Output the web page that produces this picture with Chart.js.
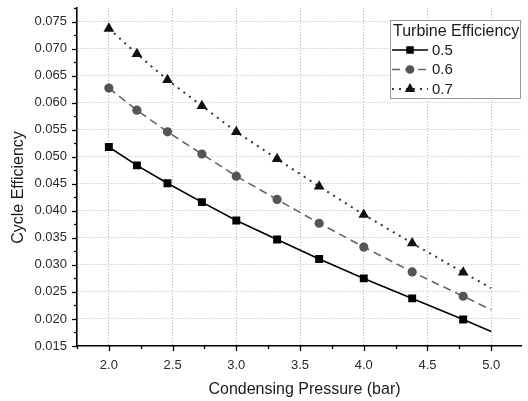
<!DOCTYPE html>
<html><head><meta charset="utf-8">
<script src="https://cdn.jsdelivr.net/npm/chart.js@4.4.1/dist/chart.umd.min.js"></script>
<style>html,body{margin:0;padding:0;background:#fff}#wrap{width:528px;height:401px;position:relative}</style>
</head><body><div id="wrap"><canvas id="c" width="528" height="401"></canvas></div>
<script>
const pressures = [2.0, 2.22, 2.46, 2.73, 3.0, 3.32, 3.65, 4.0, 4.38, 4.78, 5.0];
const eff05 = [0.0518, 0.0484, 0.0451, 0.0416, 0.0382, 0.0347, 0.0311, 0.0275, 0.0238, 0.0199, 0.0177];
const eff06 = [0.0627, 0.0586, 0.0546, 0.0505, 0.0464, 0.0421, 0.0377, 0.0333, 0.0287, 0.0242, 0.0217];
const eff07 = [0.0737, 0.0690, 0.0642, 0.0594, 0.0546, 0.0496, 0.0445, 0.0393, 0.0340, 0.0286, 0.0257];
const seriesNames = ['0.5', '0.6', '0.7'];
const legendTitle = 'Turbine Efficiency';
const xTitle = 'Condensing Pressure (bar)';
const yTitle = 'Cycle Efficiency';
const xTickValues = [1.75, 2.0, 2.25, 2.5, 2.75, 3.0, 3.25, 3.5, 3.75, 4.0, 4.25, 4.5, 4.75, 5.0];
const yTickValues = [0.015, 0.0175, 0.02, 0.0225, 0.025, 0.0275, 0.03, 0.0325, 0.035, 0.0375, 0.04, 0.0425, 0.045, 0.0475, 0.05, 0.0525, 0.055, 0.0575, 0.06, 0.0625, 0.065, 0.0675, 0.07, 0.0725, 0.075, 0.0775];

const FONT = '"Liberation Sans", Arial, sans-serif';
const isMajorX = v => Math.abs(v * 2 - Math.round(v * 2)) < 1e-6;
const isMajorY = v => Math.abs(v * 200 - Math.round(v * 200)) < 1e-6;

function pts(ys) { return pressures.map((x, i) => ({x: x, y: ys[i]})); }
const lastIdx = pressures.length - 1;

const styles = [
  {color: '#000000', pointColor: '#000000', dash: [], width: 1.6, pointStyle: 'rect', radius: 5.6},
  {color: '#666666', pointColor: '#555555', dash: [8, 5], width: 1.6, pointStyle: 'circle', radius: 4.6},
  {color: '#333333', pointColor: '#111111', dash: [2, 5], width: 2, pointStyle: 'triangle', radius: 6.2}
];
const series = [eff05, eff06, eff07];

const datasets = series.map((s, k) => ({
  label: seriesNames[k],
  data: pts(s),
  borderColor: styles[k].color,
  borderWidth: styles[k].width,
  borderDash: styles[k].dash,
  backgroundColor: styles[k].pointColor,
  pointBackgroundColor: styles[k].pointColor,
  pointBorderColor: styles[k].pointColor,
  pointBorderWidth: 0,
  pointStyle: styles[k].pointStyle,
  pointRadius: c => c.dataIndex === lastIdx ? 0 : styles[k].radius,
  pointHoverRadius: c => c.dataIndex === lastIdx ? 0 : styles[k].radius,
  fill: false,
  tension: 0
}));

function drawMarker(ctx, style, x, y, r, color) {
  ctx.save();
  ctx.fillStyle = color;
  ctx.beginPath();
  if (style === 'rect') {
    const s = Math.SQRT1_2 * r;
    ctx.rect(x - s, y - s, 2 * s, 2 * s);
  } else if (style === 'circle') {
    ctx.arc(x, y, r, 0, Math.PI * 2);
  } else {
    ctx.moveTo(x, y - r);
    ctx.lineTo(x + r * Math.sin(2 * Math.PI / 3), y - r * Math.cos(2 * Math.PI / 3));
    ctx.lineTo(x + r * Math.sin(4 * Math.PI / 3), y - r * Math.cos(4 * Math.PI / 3));
    ctx.closePath();
  }
  ctx.fill();
  ctx.restore();
}

const decor = {
  id: 'decor',
  afterDraw(chart) {
    const ctx = chart.ctx;
    const xs = chart.scales.x, ys = chart.scales.y;
    ctx.save();
    ctx.strokeStyle = '#000';
    ctx.lineWidth = 1.3;
    xs.ticks.forEach(t => {
      const px = Math.round(xs.getPixelForValue(t.value)) + 0.5;
      const len = isMajorX(t.value) ? 5 : 3;
      ctx.beginPath(); ctx.moveTo(px, chart.chartArea.bottom); ctx.lineTo(px, chart.chartArea.bottom + len); ctx.stroke();
    });
    ys.ticks.forEach(t => {
      const py = Math.round(ys.getPixelForValue(t.value)) + 0.5;
      const len = isMajorY(t.value) ? 5 : 3;
      ctx.beginPath(); ctx.moveTo(chart.chartArea.left, py); ctx.lineTo(chart.chartArea.left - len, py); ctx.stroke();
    });
    ctx.restore();

    ctx.save();
    ctx.fillStyle = '#1a1a1a';
    ctx.font = '16px ' + FONT;
    ctx.textAlign = 'center';
    ctx.textBaseline = 'alphabetic';
    ctx.fillText(xTitle, 304.5, 393.5);
    ctx.translate(23, 187.5);
    ctx.rotate(-Math.PI / 2);
    ctx.fillText(yTitle, 0, 0);
    ctx.restore();

    ctx.save();
    ctx.fillStyle = '#ffffff';
    ctx.fillRect(390.5, 20.5, 130, 78);
    ctx.strokeStyle = '#9a9a9a';
    ctx.lineWidth = 1;
    ctx.strokeRect(390.5, 20.5, 130, 78);
    ctx.fillStyle = '#1a1a1a';
    ctx.textAlign = 'left';
    ctx.textBaseline = 'middle';
    ctx.font = '16px ' + FONT;
    ctx.fillText(legendTitle, 393, 32);
    chart.data.datasets.forEach((ds, k) => {
      const y = 50 + k * 19.5;
      ctx.save();
      ctx.strokeStyle = ds.borderColor;
      ctx.lineWidth = ds.borderWidth;
      ctx.setLineDash(ds.borderDash);
      ctx.beginPath(); ctx.moveTo(392, y); ctx.lineTo(428, y); ctx.stroke();
      ctx.restore();
      drawMarker(ctx, ds.pointStyle, 410, y, styles[k].radius * 0.95, ds.pointBackgroundColor);
      ctx.font = '15px ' + FONT;
      ctx.fillStyle = '#1a1a1a';
      ctx.fillText(ds.label, 432, y + 0.5);
    });
    ctx.restore();
  }
};

new Chart(document.getElementById('c'), {
  type: 'line',
  data: {datasets: datasets},
  options: {
    responsive: false,
    animation: false,
    devicePixelRatio: 1,
    layout: {padding: {top: 8, right: 0, left: 0, bottom: 0}},
    plugins: {legend: {display: false}, tooltip: {enabled: false}},
    scales: {
      x: {
        type: 'linear',
        min: 1.75,
        max: 5.24,
        afterBuildTicks: s => { s.ticks = xTickValues.map(v => ({value: v})); },
        afterFit: s => { s.height = 55; s.paddingLeft = 0; s.paddingRight = 0; },
        ticks: {
          autoSkip: false,
          maxRotation: 0,
          padding: 12,
          color: '#2a2a2a',
          font: {family: FONT, size: 13},
          callback: v => isMajorX(v) ? v.toFixed(1) : ''
        },
        grid: {
          drawTicks: false,
          lineWidth: 1,
          color: c => (c.tick && isMajorX(c.tick.value) && c.tick.value > 1.8) ? '#b8b8b8' : 'rgba(0,0,0,0)'
        },
        border: {display: true, color: '#000', width: 1.6, dash: [1, 2]}
      },
      y: {
        type: 'linear',
        min: 0.015,
        max: 0.0775,
        afterBuildTicks: s => { s.ticks = yTickValues.map(v => ({value: v})); },
        afterFit: s => { s.width = 77; s.paddingTop = 0; s.paddingBottom = 0; },
        ticks: {
          autoSkip: false,
          padding: 10,
          color: '#2a2a2a',
          font: {family: FONT, size: 13},
          callback: v => isMajorY(v) ? v.toFixed(3) : ''
        },
        grid: {
          drawTicks: false,
          lineWidth: 1,
          color: c => (c.tick && isMajorY(c.tick.value) && c.tick.value > 0.016) ? '#b8b8b8' : 'rgba(0,0,0,0)'
        },
        border: {display: true, color: '#000', width: 1.6, dash: [1, 2]}
      }
    }
  },
  plugins: [decor]
});
</script>
</body></html>
